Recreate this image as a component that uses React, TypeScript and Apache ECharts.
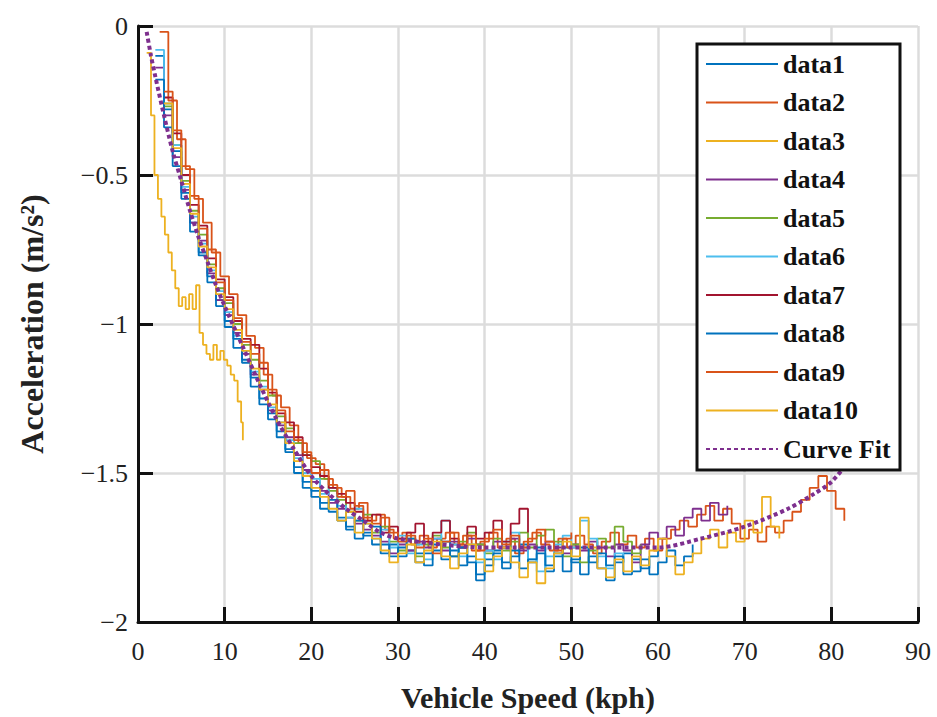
import { useEffect, useRef } from "react";
import * as echarts from "echarts";

// ---- data (speed in kph, acceleration in m/s^2) ----
const seriesNames = ["data1", "data2", "data3", "data4", "data5", "data6", "data7", "data8", "data9", "data10"];
const seriesColors = ["#0072BD", "#D95319", "#EDB120", "#7E2F8E", "#77AC30", "#4DBEEE", "#A2142F", "#0072BD", "#D95319", "#EDB120"];

// series sampled every 1 kph starting at the given speed
const data1Start = 2;
const data1 = [-0.10, -0.28, -0.42, -0.56, -0.66, -0.76, -0.84, -0.92, -0.99,
  -1.05, -1.12, -1.18, -1.25, -1.30, -1.36, -1.42, -1.48, -1.53, -1.56,
  -1.60, -1.63, -1.66, -1.68, -1.72, -1.70, -1.74, -1.77, -1.74, -1.78,
  -1.76, -1.80, -1.77, -1.74, -1.79, -1.76, -1.81, -1.78, -1.84, -1.79,
  -1.76, -1.82, -1.78, -1.74, -1.80, -1.77, -1.83, -1.78, -1.75, -1.80,
  -1.84, -1.78, -1.82, -1.86, -1.80, -1.77, -1.83, -1.79, -1.84, -1.80,
  -1.76, -1.81, -1.78, -1.74];

const data2Start = 2.5;
const data2 = [-0.02, -0.25, -0.38, -0.48, -0.58, -0.66, -0.76, -0.84, -0.90,
  -0.97, -1.04, -1.08, -1.17, -1.24, -1.28, -1.34, -1.40, -1.45, -1.47,
  -1.52, -1.55, -1.58, -1.62, -1.60, -1.66, -1.64, -1.69, -1.72, -1.70,
  -1.74, -1.71, -1.75, -1.72, -1.70, -1.74, -1.71, -1.76, -1.73, -1.70,
  -1.75, -1.72, -1.77, -1.73, -1.70, -1.74, -1.76, -1.72, -1.75, -1.71,
  -1.74, -1.77, -1.73, -1.70, -1.74, -1.71, -1.75, -1.72, -1.76, -1.72,
  -1.69, -1.66, -1.68, -1.64, -1.61, -1.66, -1.62, -1.67, -1.72, -1.69,
  -1.73, -1.68, -1.70, -1.66, -1.63, -1.59, -1.55, -1.51, -1.56, -1.62, -1.66];

// data3 is irregularly sampled
const data3Speed = [1.0, 1.5, 1.9, 2.3, 2.7, 3.1, 3.5, 3.9, 4.3, 4.7, 5.1, 5.5, 5.9, 6.3, 6.7,
  7.1, 7.5, 7.9, 8.3, 8.7, 9.1, 9.5, 9.9, 10.3, 10.7, 11.1, 11.5, 11.9, 12.1];
const data3 = [-0.09, -0.30, -0.50, -0.58, -0.64, -0.70, -0.76, -0.82, -0.88, -0.94, -0.91, -0.95, -0.90, -0.95, -0.87,
  -1.03, -1.07, -1.10, -1.12, -1.07, -1.12, -1.09, -1.12, -1.14, -1.17, -1.19, -1.26, -1.33, -1.39];

const data4Start = 2;
const data4 = [-0.14, -0.30, -0.44, -0.55, -0.66, -0.72, -0.83, -0.92, -0.97,
  -1.03, -1.10, -1.17, -1.22, -1.29, -1.34, -1.38, -1.44, -1.49, -1.53,
  -1.56, -1.60, -1.62, -1.65, -1.67, -1.69, -1.71, -1.73, -1.77, -1.74,
  -1.76, -1.73, -1.75, -1.72, -1.76, -1.73, -1.75, -1.72, -1.74, -1.76,
  -1.73, -1.75, -1.72, -1.76, -1.74, -1.76, -1.73, -1.75, -1.77, -1.74,
  -1.76, -1.73, -1.75, -1.78, -1.74, -1.76, -1.80, -1.74, -1.70, -1.72,
  -1.68, -1.71, -1.65, -1.62, -1.66, -1.60, -1.64, -1.61];

const data5Start = 3;
const data5 = [-0.27, -0.40, -0.52, -0.62, -0.70, -0.80, -0.88, -0.93,
  -1.00, -1.07, -1.12, -1.19, -1.24, -1.31, -1.35, -1.40, -1.44, -1.46,
  -1.52, -1.56, -1.59, -1.63, -1.66, -1.64, -1.70, -1.68, -1.73, -1.76,
  -1.72, -1.78, -1.74, -1.71, -1.75, -1.78, -1.73, -1.70, -1.74, -1.77,
  -1.72, -1.76, -1.73, -1.70, -1.75, -1.71, -1.69, -1.73, -1.78, -1.74,
  -1.80, -1.76, -1.72, -1.75, -1.68, -1.73, -1.77, -1.74];

const data6Start = 2;
const data6 = [-0.08, -0.26, -0.40, -0.54, -0.64, -0.73, -0.82, -0.89, -0.96,
  -1.04, -1.09, -1.16, -1.21, -1.28, -1.33, -1.39, -1.45, -1.50, -1.52,
  -1.57, -1.55, -1.61, -1.65, -1.62, -1.67, -1.72, -1.69, -1.75, -1.71,
  -1.77, -1.74, -1.79, -1.72, -1.66, -1.74, -1.78, -1.74, -1.80, -1.76,
  -1.79, -1.73, -1.70, -1.75, -1.79, -1.83, -1.78, -1.74, -1.71, -1.75,
  -1.66, -1.72, -1.78, -1.82, -1.77, -1.80];

const data7Start = 3;
const data7 = [-0.24, -0.36, -0.50, -0.60, -0.67, -0.78, -0.85, -0.91,
  -0.99, -1.05, -1.07, -1.15, -1.23, -1.30, -1.33, -1.38, -1.44, -1.48,
  -1.51, -1.55, -1.57, -1.60, -1.63, -1.66, -1.64, -1.70, -1.68, -1.72,
  -1.70, -1.67, -1.73, -1.70, -1.66, -1.72, -1.75, -1.68, -1.72, -1.70,
  -1.66, -1.73, -1.67, -1.62, -1.70];

const data8Start = 2;
const data8 = [-0.18, -0.34, -0.47, -0.58, -0.69, -0.77, -0.86, -0.94, -1.01,
  -1.08, -1.13, -1.21, -1.27, -1.32, -1.38, -1.43, -1.50, -1.55, -1.58,
  -1.62, -1.59, -1.65, -1.69, -1.66, -1.71, -1.68, -1.74, -1.78, -1.75,
  -1.72, -1.77, -1.81, -1.76, -1.73, -1.78, -1.75, -1.80, -1.86, -1.81,
  -1.77, -1.80, -1.76, -1.82, -1.79, -1.75, -1.81, -1.77, -1.83, -1.79,
  -1.75, -1.80, -1.77, -1.81, -1.78, -1.84, -1.79, -1.82, -1.78, -1.75];

const data9Start = 3;
const data9 = [-0.22, -0.35, -0.47, -0.57, -0.68, -0.75, -0.86, -0.92,
  -0.98, -1.06, -1.10, -1.13, -1.22, -1.29, -1.36, -1.39, -1.43, -1.50,
  -1.49, -1.54, -1.58, -1.56, -1.61, -1.65, -1.67, -1.65, -1.70, -1.73,
  -1.71, -1.75, -1.72, -1.77, -1.73, -1.70, -1.74, -1.71, -1.76, -1.72,
  -1.69, -1.74, -1.71, -1.75, -1.72, -1.69, -1.73, -1.76, -1.72, -1.70];

const data10Start = 3;
const data10 = [-0.26, -0.41, -0.53, -0.63, -0.74, -0.81, -0.90, -0.95,
  -1.02, -1.09, -1.15, -1.22, -1.27, -1.33, -1.40, -1.46, -1.51, -1.55,
  -1.58, -1.62, -1.66, -1.63, -1.70, -1.67, -1.72, -1.76, -1.80, -1.77,
  -1.74, -1.80, -1.76, -1.73, -1.78, -1.82, -1.77, -1.74, -1.79, -1.83,
  -1.78, -1.75, -1.80, -1.85, -1.80, -1.87, -1.82, -1.77, -1.73, -1.78,
  -1.65, -1.75, -1.82, -1.85, -1.79, -1.83, -1.78, -1.81, -1.76, -1.72,
  -1.78, -1.84, -1.80, -1.77, -1.72, -1.69, -1.75, -1.70, -1.73, -1.66,
  -1.70, -1.58, -1.68, -1.72];

const fitSpeed = [1, 1.5, 2, 3, 4, 5, 6, 7, 8, 9, 10, 12, 14, 16, 18, 20, 22, 24, 26, 28, 30,
  35, 40, 45, 50, 55, 60, 65, 70, 75, 78, 80, 82, 84];
const fitAccel = [-0.02, -0.10, -0.17, -0.30, -0.42, -0.52, -0.62, -0.71, -0.79, -0.87, -0.94,
  -1.07, -1.20, -1.32, -1.42, -1.51, -1.57, -1.62, -1.66, -1.70, -1.72,
  -1.74, -1.75, -1.75, -1.75, -1.75, -1.75, -1.72, -1.68, -1.62, -1.57, -1.53, -1.46, -1.38];

const xTicks = { min: 0, max: 90, interval: 10 };
const yTicks = { min: -2, max: 0, interval: 0.5 };

const regular = (start: number, vals: number[]) => vals.map((v, i) => [start + i, v]);
const paired = (xs: number[], ys: number[]) => xs.map((x, i) => [x, ys[i]]);

const seriesData: number[][][] = [
  regular(data1Start, data1),
  regular(data2Start, data2),
  paired(data3Speed, data3),
  regular(data4Start, data4),
  regular(data5Start, data5),
  regular(data6Start, data6),
  regular(data7Start, data7),
  regular(data8Start, data8),
  regular(data9Start, data9),
  regular(data10Start, data10),
];

const FONT = "'Liberation Serif', 'Times New Roman', serif";

export default function App() {
  const ref = useRef<HTMLDivElement>(null);
  useEffect(() => {
    const chart = echarts.init(ref.current!, null, { renderer: "svg" });
    const lineSeries: any[] = seriesNames.map((name, i) => ({
      name,
      type: "line",
      step: "end",
      data: seriesData[i],
      symbol: "none",
      showSymbol: false,
      lineStyle: { color: seriesColors[i], width: 1.8 },
      itemStyle: { color: seriesColors[i] },
      z: 2,
    }));
    lineSeries.push({
      name: "Curve Fit",
      type: "line",
      data: paired(fitSpeed, fitAccel),
      smooth: 0.3,
      symbol: "none",
      showSymbol: false,
      lineStyle: { color: "#7E2F8E", width: 4, type: [4, 3] },
      itemStyle: { color: "#7E2F8E" },
      z: 3,
    });
    chart.setOption({
      animation: false,
      backgroundColor: "#fff",
      grid: { left: 138, width: 780, top: 26, height: 614 },
      xAxis: {
        type: "value",
        min: xTicks.min,
        max: xTicks.max,
        interval: xTicks.interval,
        name: "Vehicle Speed (kph)",
        nameLocation: "middle",
        nameGap: 60,
        nameTextStyle: { fontFamily: FONT, fontWeight: "bold", fontSize: 30, color: "#222" },
        axisLine: { show: true, onZero: false, lineStyle: { color: "#111", width: 3 } },
        axisTick: { show: true, inside: true, length: 15, lineStyle: { color: "#111", width: 3 } },
        axisLabel: { fontFamily: FONT, fontSize: 26, color: "#222", margin: 16 },
        splitLine: { show: true, lineStyle: { color: "#dcdcdc", width: 2.5 } },
      },
      yAxis: {
        type: "value",
        min: yTicks.min,
        max: yTicks.max,
        interval: yTicks.interval,
        name: "Acceleration (m/s²)",
        nameLocation: "middle",
        nameGap: 90,
        nameTextStyle: { fontFamily: FONT, fontWeight: "bold", fontSize: 32, color: "#222" },
        axisLine: { show: true, onZero: false, lineStyle: { color: "#111", width: 3 } },
        axisTick: { show: true, inside: true, length: 15, lineStyle: { color: "#111", width: 3 } },
        axisLabel: {
          fontFamily: FONT,
          fontSize: 26,
          color: "#222",
          margin: 10,
          formatter: (v: number) => (v === 0 ? "0" : String(v).replace("-", "\u2212")),
        },
        splitLine: { show: true, lineStyle: { color: "#dcdcdc", width: 2.5 } },
      },
      legend: {
        data: [...seriesNames, "Curve Fit"],
        orient: "vertical",
        left: 705,
        top: 51,
        padding: 0,
        itemWidth: 72,
        itemHeight: 14,
        itemGap: 12.5,
        z: 20,
        itemStyle: { opacity: 0 },
        textStyle: { fontFamily: FONT, fontWeight: "bold", fontSize: 26, color: "#111" },
      },
      graphic: [
        {
          type: "rect",
          z: 10,
          shape: { x: 697, y: 44, width: 203, height: 426 },
          style: { fill: "#fff", stroke: "#111", lineWidth: 3 },
        },
      ],
      series: lineSeries,
    });
    return () => chart.dispose();
  }, []);
  return (
    <div
      ref={ref}
      style={{ position: "fixed", left: 0, top: 0, width: 937, height: 717, background: "#fff" }}
    />
  );
}
